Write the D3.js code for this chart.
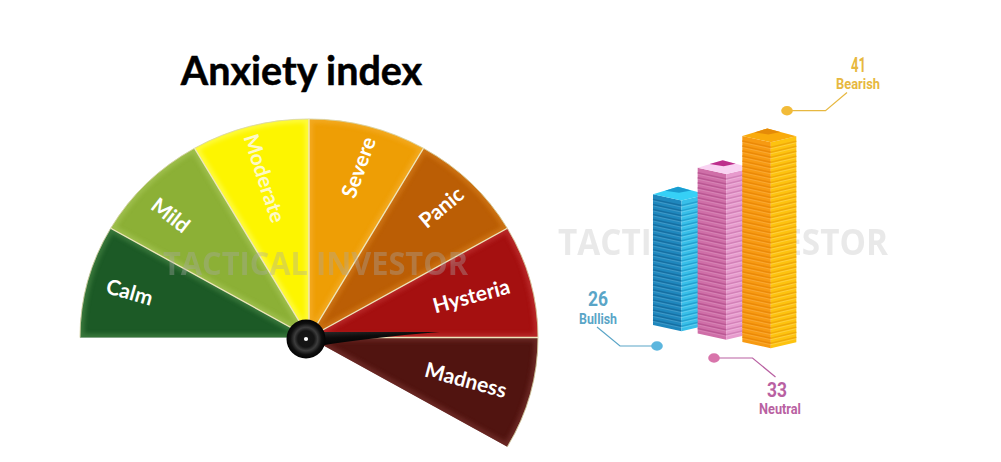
<!DOCTYPE html>
<html><head><meta charset="utf-8">
<script src="https://cdnjs.cloudflare.com/ajax/libs/d3/7.8.5/d3.min.js"></script>
<style>html,body{margin:0;padding:0;background:#fff;overflow:hidden}svg{display:block}</style>
</head><body><svg id="c" width="1001" height="462"></svg>
<script>
const title = "Anxiety index";
const watermark = "TACTICAL INVESTOR";
const zones = ["Calm","Mild","Moderate","Severe","Panic","Hysteria","Madness"];
const zoneSpans = [30,30,30,30,30,30,30];
const zoneFill = ["#1c5a26","#8cb036","#fdf500","#ee9e05","#bb5e05","#a51010","#511410"];
const zoneRim = ["#4c8a48","#a9c85a","#ffff60","#f6b030","#d8801c","#c43838","#7a3630"];
const zoneText = ["#fff","#fff","#fdf9c8","#fff","#fff","#fff","#fff"];
const needleDeg = 87;
const stackNames = ["Bullish","Neutral","Bearish"];
const stackValues = [26,33,41];
const stackLeft = ["#1f87bd","#cf6fa8","#f79a12"];
const stackLeftDark = ["#156a9c","#b6528f","#e98606"];
const stackRight = ["#38bfe9","#e79bcd","#fdc30f"];
const stackRightDark = ["#1f9ccc","#cf7cb4","#eda408"];
const stackTop = ["#36d0f6","#f9d3f2","#f9ab0c"];
const stackApex = ["#1a9cd0","#bd2f8c","#e58b08"];
const noteColor = ["#5aa5c7","#b961a2","#e7b840"];
const noteDot = ["#5cb6de","#d874ab","#f2bb38"];

const svg = d3.select("#c"), defs = svg.append("defs");
const blur = (id,s)=>defs.append("filter").attr("id",id).attr("x","-30%").attr("y","-30%").attr("width","160%").attr("height","160%")
  .append("feGaussianBlur").attr("stdDeviation",s);
blur("b1",.6); blur("b2",2.2);

svg.append("text").attr("x",301.5).attr("y",84.5).attr("text-anchor","middle")
  .attr("font-family","Lato").attr("font-weight",700).attr("font-size",39.5).attr("fill","#000")
  .attr("stroke","#000").attr("stroke-width",.5).text(title);

// gauge
const cx=309, cy=337.5, rx=229, ry=218.5;
const rad = d3.scaleLinear().domain([0,180]).range([0,Math.PI]);
const pie = d3.pie().sort(null).value(d=>d).startAngle(rad(-90)).endAngle(rad(120));
const slices = pie(zoneSpans);
const arc = d3.arc().innerRadius(0).outerRadius(rx);
const yK = ry/rx;
const g = svg.append("g").attr("transform",`translate(${cx},${cy}) scale(1,${yK})`);
slices.forEach((s,i)=>{
  const id="cl"+i;
  defs.append("clipPath").attr("id",id).append("path").attr("d",arc(s));
  g.append("path").attr("d",arc(s)).attr("fill",zoneFill[i]);
  g.append("g").attr("clip-path",`url(#${id})`).append("path").attr("d",arc(s)).attr("fill","none").attr("stroke",zoneRim[i])
   .attr("stroke-width",8).attr("filter","url(#b2)").attr("opacity",.6);
});
g.selectAll(".rim").data(slices).join("path")
  .attr("d",d=>d3.arc().innerRadius(rx).outerRadius(rx)(d)).attr("fill","none").attr("stroke","#d8d4a8").attr("stroke-width",.8).attr("opacity",.7);
g.selectAll(".div").data(slices.slice(1)).join("path")
  .attr("d",d=>d3.lineRadial()([[d.startAngle,0],[d.startAngle,rx]])).attr("fill","none")
  .attr("stroke","#eee6bc").attr("stroke-width",1.4);

// zone labels
const labelR = 172, labelRot=[16,38,72,-70,-40,-15,15];
const labelDX=[-13,-16,1,4,10,-4,-9], labelDY=[-4,-7,-1,-12,-15,0,-1];
const ga = svg.append("g");
slices.forEach((s,i)=>{
  const a=(s.startAngle+s.endAngle)/2;
  ga.append("text").attr("transform",`translate(${cx+Math.sin(a)*labelR+labelDX[i]},${cy-Math.cos(a)*labelR*yK+labelDY[i]}) rotate(${labelRot[i]})`)
   .attr("text-anchor","middle").attr("dominant-baseline","central")
   .attr("font-family","Lato").attr("font-weight",700).attr("font-size",21).attr("fill",zoneText[i]).text(zones[i]);
});

// watermarks
const wm=(x,w,y,fs,col,op)=>svg.append("text").attr("x",x).attr("y",y).attr("textLength",w).attr("lengthAdjust","spacingAndGlyphs")
  .attr("font-family","Open Sans").attr("font-weight",700).attr("font-size",fs).attr("fill",col).attr("opacity",op).attr("filter","url(#b1)").text(watermark);
wm(163,305,275,32,"#a9a9a9",.36);
wm(558,330,255,35,"#d4d4d4",.5);

// hub + needle
const hx=306, hy=339;
const hg = defs.append("radialGradient").attr("id","hub");
[[0,"#151515"],[.42,"#141414"],[.6,"#3c3c3c"],[.8,"#101010"],[1,"#030303"]].forEach(s=>hg.append("stop").attr("offset",s[0]).attr("stop-color",s[1]));
const nLen=134;
const ng = defs.append("linearGradient").attr("id","nd").attr("x1",0).attr("x2",0).attr("y1",0).attr("y2",1);
ng.append("stop").attr("offset",0).attr("stop-color","#2c2c2c");
ng.append("stop").attr("offset",.45).attr("stop-color","#0c0c0c");
ng.append("stop").attr("offset",1).attr("stop-color","#000");
svg.append("g").attr("transform",`translate(${hx},${hy}) rotate(${needleDeg-90})`)
  .append("path").attr("fill","url(#nd)")
  .attr("d",`M0,-7 L14,-6.3 L${nLen},0 Q60,2 14,7.5 L0,9 Z`);
svg.append("circle").attr("cx",hx).attr("cy",hy).attr("r",19.5).attr("fill","url(#hub)");
svg.append("circle").attr("cx",hx).attr("cy",hy).attr("r",2.1).attr("fill","#fff");

// stacks
const xS = d3.scaleBand().domain(stackNames).range([653,787]);
const baseS = d3.scalePoint().domain(stackNames).range([325,342]);
const hS = d3.scaleLinear().domain([0,41]).range([0,206]);
const wL=28.5, wR=25.5, dip=6.2, rise=6, backX=25, backY=7.5;
const poly=(sel,pts,fill)=>sel.append("polygon").attr("points",pts.map(p=>p.join(",")).join(" ")).attr("fill",fill);
const line=(sel,a,b,col,w,op)=>sel.append("line").attr("x1",a[0]).attr("y1",a[1]).attr("x2",b[0]).attr("y2",b[1]).attr("stroke",col).attr("stroke-width",w).attr("opacity",op);
stackNames.forEach((name,i)=>{
  const G=svg.append("g"), x=xS(name), b=baseS(name), h=hS(stackValues[i]), t=b-h;
  const fx=x+wL, rx2=fx+wR;
  poly(G,[[x,t],[fx,t+dip],[fx,b+dip],[x,b]],stackLeft[i]);
  poly(G,[[fx,t+dip],[rx2,t+dip-rise],[rx2,b+dip-rise],[fx,b+dip]],stackRight[i]);
  const step=h/stackValues[i];
  d3.range(1,stackValues[i]).forEach(k=>{
    const yy=t+k*step;
    line(G,[x,yy],[fx,yy+dip],stackLeftDark[i],1.5,.8);
    line(G,[x,yy+1.5],[fx,yy+dip+1.5],"#fff",.8,.18);
    line(G,[fx,yy+dip],[rx2,yy+dip-rise],stackRightDark[i],1.5,.8);
    line(G,[fx,yy+dip+1.5],[rx2,yy+dip-rise+1.5],"#fff",.8,.25);
  });
  poly(G,[[x,t],[x+backX,t-backY],[rx2,t+dip-rise],[fx,t+dip]],stackTop[i]);
  poly(G,[[x+backX-13,t-backY+3.9],[x+backX,t-backY],[x+backX+13,t-backY+3.6],[x+backX+1,t-backY+6]],stackApex[i]);
});

// callouts
const notes = [
 {dot:[657,346],elbow:[620,346],end:[597,327],num:[598,306],lab:[598,324],w:38,nw:20},
 {dot:[714,358],elbow:[752.5,358],end:[775.5,377],num:[777,397],lab:[780,414],w:42,nw:20},
 {dot:[787,110.7],elbow:[825.5,110.7],end:[847,92.5],num:[858.5,72],lab:[858,89],w:44,nw:15}
];
notes.forEach((n,i)=>{
  svg.append("path").attr("d",d3.line()([n.dot,n.elbow,n.end])).attr("fill","none").attr("stroke",noteColor[i]).attr("stroke-width",1.2);
  svg.append("ellipse").attr("cx",n.dot[0]).attr("cy",n.dot[1]).attr("rx",5.8).attr("ry",4.7).attr("fill",noteDot[i]);
  svg.append("text").attr("x",n.num[0]).attr("y",n.num[1]).attr("text-anchor","middle").attr("font-family","Roboto").attr("font-weight",700)
    .attr("font-size",20).attr("textLength",n.nw).attr("lengthAdjust","spacingAndGlyphs").attr("fill",noteColor[i]).text(stackValues[i]);
  svg.append("text").attr("x",n.lab[0]).attr("y",n.lab[1]).attr("text-anchor","middle").attr("font-family","Roboto").attr("font-weight",700)
    .attr("font-size",14).attr("textLength",n.w).attr("lengthAdjust","spacingAndGlyphs").attr("fill",noteColor[i]).text(stackNames[i]);
});
</script></body></html>
